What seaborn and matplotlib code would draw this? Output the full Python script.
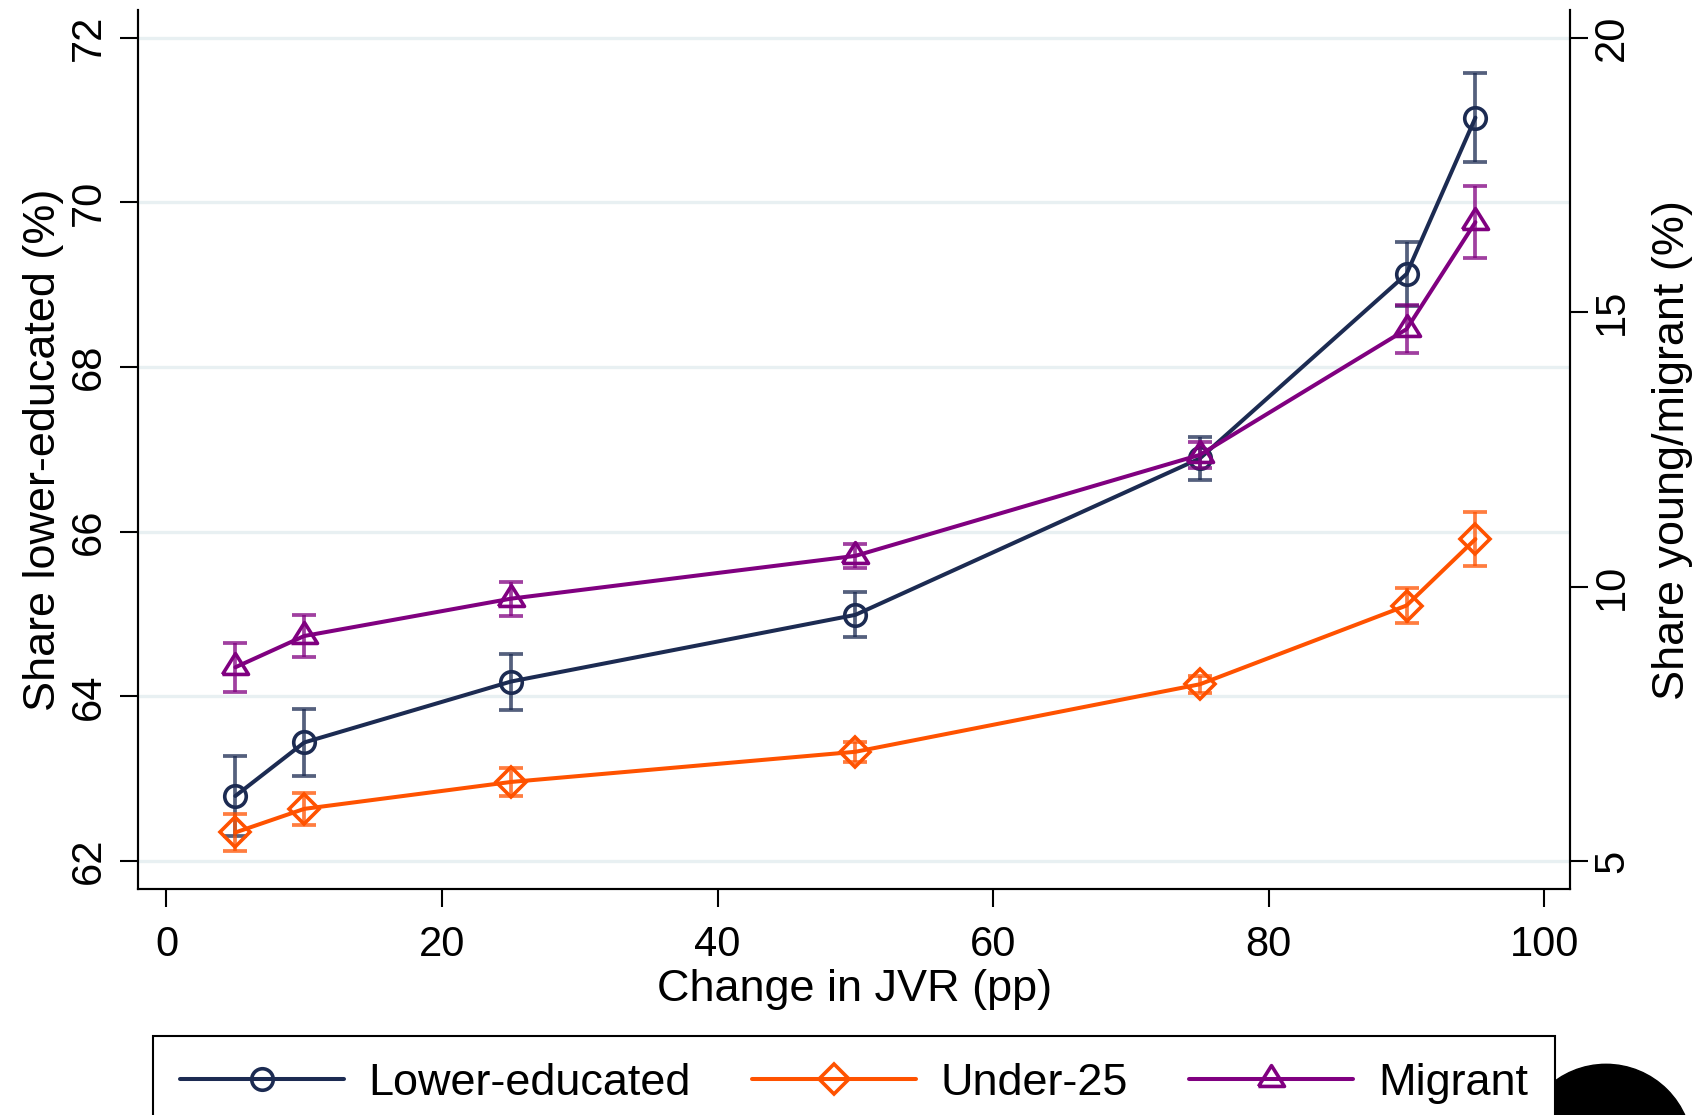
import matplotlib
matplotlib.use("Agg")
import matplotlib.pyplot as plt
import seaborn as sns
import numpy as np
from matplotlib.lines import Line2D
from matplotlib.patches import Circle
from matplotlib.transforms import IdentityTransform

# ---- data ----
jvr_change = [5, 10, 25, 50, 75, 90, 95]
lower_edu = [62.79, 63.44, 64.18, 64.99, 66.89, 69.13, 71.03]
lower_edu_err = [0.49, 0.41, 0.34, 0.275, 0.26, 0.39, 0.545]
under25 = [5.52, 5.95, 6.44, 6.99, 8.22, 9.655, 10.865]
under25_err = [0.345, 0.29, 0.25, 0.185, 0.15, 0.315, 0.485]
migrant = [8.53, 9.10, 9.78, 10.56, 12.40, 14.69, 16.64]
migrant_err = [0.45, 0.375, 0.31, 0.215, 0.235, 0.435, 0.66]

x_ticks = [0, 20, 40, 60, 80, 100]
left_ticks = [62, 64, 66, 68, 70, 72]
right_ticks = [5, 10, 15, 20]
series_labels = ["Lower-educated", "Under-25", "Migrant"]

# ---- style ----
sns.set_theme(style="white")
plt.rcParams["font.family"] = ["Liberation Sans", "DejaVu Sans"]
for k in ("text.color", "axes.labelcolor", "xtick.color", "ytick.color", "axes.edgecolor"):
    plt.rcParams[k] = "black"

NAVY = "#1c2b52"
ORANGE = "#ff5200"
PURPLE = "#800080"
FS_TICK = 30
FS_LAB = 32.4
LW = 2.9
MEW = 2.6
tri_marker = [(-1.25, -0.667), (1.25, -0.667), (0.0, 1.333), (-1.25, -0.667)]
MS = {"o": 15.5, "D": 15.5, "tri": 20.0}

fig = plt.figure(figsize=(16.96, 11.15), dpi=100)
ax = fig.add_axes([0.0815, 0.2024, 0.926 - 0.0815, 0.991 - 0.2024])
ax2 = ax.twinx()

err_kw = dict(fmt="none", elinewidth=2.7, capsize=8.8, capthick=2.7, alpha=0.75, zorder=2)


def style_last_line(a, color, marker, ms):
    ln = a.lines[-1]
    ln.set_linewidth(LW)
    ln.set_marker(marker)
    ln.set_markersize(ms)
    ln.set_markerfacecolor("none")
    ln.set_markeredgecolor(color)
    ln.set_markeredgewidth(MEW)
    ln.set_zorder(3)


# left axis: lower-educated
ax.errorbar(jvr_change, lower_edu, yerr=lower_edu_err, ecolor=NAVY, **err_kw)
sns.lineplot(x=jvr_change, y=lower_edu, ax=ax, color=NAVY, legend=False)
style_last_line(ax, NAVY, "o", MS["o"])

# right axis: under-25 and migrant
ax2.errorbar(jvr_change, under25, yerr=under25_err, ecolor=ORANGE, **err_kw)
ax2.errorbar(jvr_change, migrant, yerr=migrant_err, ecolor=PURPLE, **err_kw)
sns.lineplot(x=jvr_change, y=under25, ax=ax2, color=ORANGE, legend=False)
style_last_line(ax2, ORANGE, "D", MS["D"])
sns.lineplot(x=jvr_change, y=migrant, ax=ax2, color=PURPLE, legend=False)
style_last_line(ax2, PURPLE, tri_marker, MS["tri"])

# axes limits / ticks
ax.set_xlim(-2.05, 101.9)
ax.set_ylim(61.656, 72.337)
ax2.set_ylim(4.484, 20.505)

ax.set_xticks(x_ticks, [str(t) for t in x_ticks], fontsize=FS_TICK)
ax.set_yticks(left_ticks, [str(t) for t in left_ticks], fontsize=FS_TICK, rotation=90, va="center")
ax2.set_yticks(right_ticks, [str(t) for t in right_ticks], fontsize=FS_TICK, rotation=90, va="center")

ax.tick_params(axis="x", direction="out", length=12.7, width=1.5, pad=13, colors="black",
               bottom=True)
ax.tick_params(axis="y", direction="out", length=12.7, width=1.5, pad=8.6, colors="black",
               left=True)
ax2.tick_params(axis="y", direction="out", length=12.7, width=1.5, pad=3, colors="black",
                right=True)

ax.grid(axis="y", color="#e8f0f2", lw=2.4)
ax.grid(axis="x", visible=False)
ax2.grid(False)
ax.set_axisbelow(True)

for a in (ax, ax2):
    a.spines["top"].set_visible(False)
    for s in ("left", "right", "bottom"):
        a.spines[s].set_color("black")
        a.spines[s].set_linewidth(1.5)

ax.set_xlabel("Change in JVR (pp)", fontsize=FS_LAB, labelpad=3)
ax.set_ylabel("Share lower-educated (%)", fontsize=FS_LAB, labelpad=3)
ax2.set_ylabel("Share young/migrant (%)", fontsize=FS_LAB, labelpad=14, rotation=90)

# legend
handles = [
    Line2D([], [], color=NAVY, lw=LW, marker="o", markersize=MS["o"], markerfacecolor="none",
           markeredgewidth=MEW),
    Line2D([], [], color=ORANGE, lw=LW, marker="D", markersize=MS["D"], markerfacecolor="none",
           markeredgewidth=MEW),
    Line2D([], [], color=PURPLE, lw=LW, marker=tri_marker, markersize=MS["tri"],
           markerfacecolor="none", markeredgewidth=MEW),
]
leg = fig.legend(handles, series_labels, loc="upper left", ncol=3, mode="expand",
                 bbox_to_anchor=(152.7 / 1696, 0, (1555 - 152.7) / 1696, (1115 - 1035.7) / 1115),
                 borderaxespad=0, fontsize=FS_LAB, handlelength=3.65, handletextpad=0.55,
                 borderpad=0.6, fancybox=False, framealpha=1, edgecolor="black",
                 numpoints=1)
leg.get_frame().set_linewidth(1.5)

# black circle at the bottom-right corner
fig.add_artist(Circle((1606, 1115 - 1150.7), 86.4, transform=IdentityTransform(),
                      color="black", clip_on=False))

fig.savefig("out.png", dpi=100)
